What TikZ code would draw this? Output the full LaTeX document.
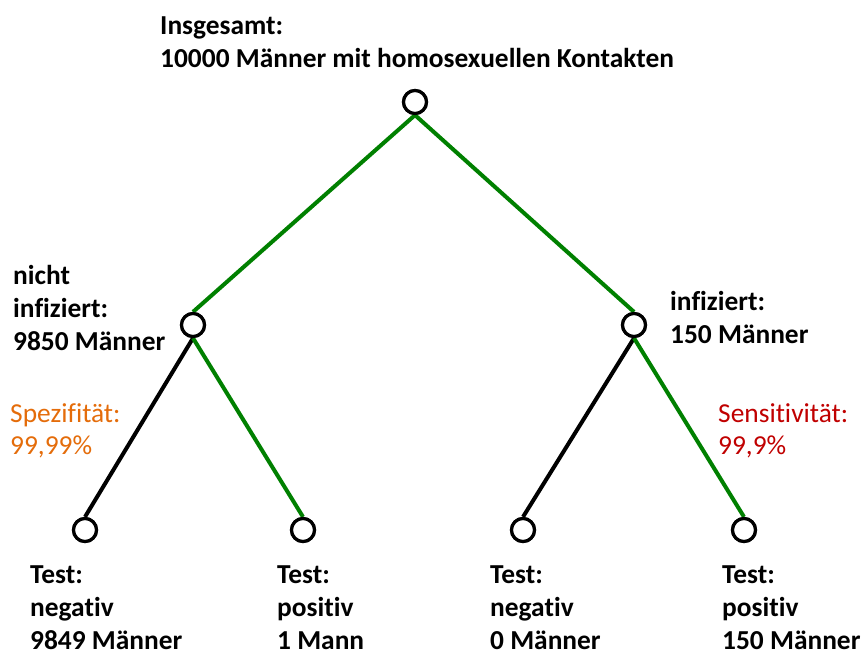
\documentclass[tikz,border=0pt]{standalone}
\usepackage{fontspec}
\setmainfont{Carlito}[Ligatures=NoCommon]
\usepackage{xcolor}

\definecolor{treegreen}{RGB}{0,128,0}
\definecolor{specorange}{RGB}{228,108,10}
\definecolor{sensred}{RGB}{192,0,0}

\begin{document}
\begin{tikzpicture}[x=1pt, y=-1pt,
    knot/.style={circle, draw=black, line width=3.2pt, fill=white, minimum size=23pt, inner sep=0pt},
    edgeYes/.style={draw=treegreen, line width=4pt},
    edgeNo/.style={draw=black, line width=4pt},
    lbl/.style={anchor=north west, align=left, inner sep=0pt, font=\fontsize{27.4}{33}\selectfont\bfseries},
    rate/.style={anchor=north west, align=left, inner sep=0pt, font=\fontsize{27.4}{32}\selectfont}]
\useasboundingbox (0,0) rectangle (861,653);

% knots of the tree
\node[knot] (root) at (415,102) {};
\node[knot] (nichtInf) at (193,325) {};
\node[knot] (inf) at (634,325) {};
\node[knot] (negA) at (85,530) {};
\node[knot] (posA) at (303,530) {};
\node[knot] (negB) at (523,530) {};
\node[knot] (posB) at (744,530) {};

% branches
\draw[edgeYes] (root.south) -- (nichtInf.north);
\draw[edgeYes] (root.south) -- (inf.north);
\draw[edgeNo] (nichtInf.south) -- (negA.north);
\draw[edgeYes] (nichtInf.south) -- (posA.north);
\draw[edgeNo] (inf.south) -- (negB.north);
\draw[edgeYes] (inf.south) -- (posB.north);

% redraw knots on top of the branches
\foreach \k in {root,nichtInf,inf,negA,posA,negB,posB}
  \node[knot] at (\k) {};

% labels
\node[lbl] (rootLbl) at (160,17) {Insgesamt:\\10000 Männer mit homosexuellen Kontakten};
\node[lbl] (nichtInfLbl) at (13,265) {nicht\\infiziert:\\9850 Männer};
\node[lbl] (infLbl) at (670,291) {infiziert:\\150 Männer};
\node[rate, text=specorange] (spezLbl) at (10,403) {Spezifität:\\99,99\%};
\node[rate, text=sensred] (sensLbl) at (718,403) {Sensitivität:\\99,9\%};
\node[lbl] (negALbl) at (30,566) {Test:\\negativ\\9849 Männer};
\node[lbl] (posALbl) at (277,566) {Test:\\positiv\\1 Mann};
\node[lbl] (negBLbl) at (490,566) {Test:\\negativ\\0 Männer};
\node[lbl] (posBLbl) at (722,566) {Test:\\positiv\\150 Männer};
\end{tikzpicture}
\end{document}
